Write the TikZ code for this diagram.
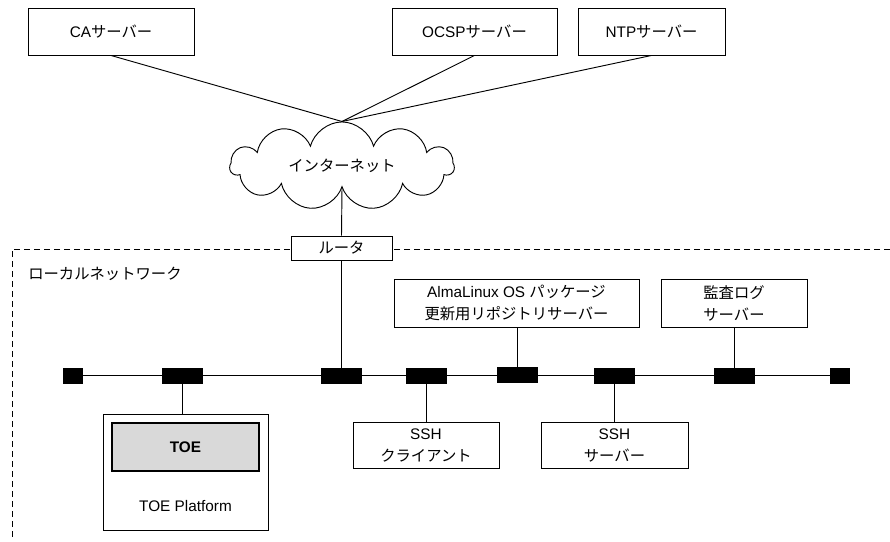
\documentclass[tikz,border=0pt]{standalone}
\usepackage{fontspec}
\setmainfont{Liberation Sans}
\newfontfamily\jp{Noto Sans CJK JP}
\usetikzlibrary{positioning, shapes.symbols}

\tikzset{
  box/.style={draw, fill=white, line width=0.7pt, align=center, inner sep=0pt},
  port/.style={fill=black, draw=black, minimum width=30pt, minimum height=11pt, inner sep=0pt},
  endport/.style={port, minimum width=14pt},
  wire/.style={line width=0.7pt},
}

\begin{document}
\begin{tikzpicture}[x=0.75pt, y=-0.75pt, font=\fontsize{11.5}{16.5}\selectfont]
\useasboundingbox (0,0) rectangle (890,542);

% external servers
\node[box, minimum width=124.5pt, minimum height=35.25pt] (ca) at (111,31.5) {CA{\jp サーバー}};
\node[box, minimum width=123.75pt, minimum height=35.25pt] (ocsp) at (474.5,31.5) {OCSP{\jp サーバー}};
\node[box, minimum width=110.25pt, minimum height=35.25pt] (ntp) at (651.5,31.5) {NTP{\jp サーバー}};

\node[cloud, draw, line width=0.7pt, cloud puffs=11, aspect=3, minimum width=168pt, minimum height=55pt] (inet) at (342,166) {\jp インターネット};

\path[wire] (ca.south) edge (inet.north);
\path[wire] (ocsp.south) edge (inet.north);
\path[wire] (ntp.south) edge (inet.north);

% local network
\draw[line width=0.7pt, dash pattern=on 4.5pt off 3pt] (890,249) -| (12,537);
\node[box, minimum width=75.75pt, minimum height=18pt] (router) at (341.5,248) {\jp ルータ};
\path[wire] (inet.south) edge (router.north);
\node[anchor=west, inner sep=0pt] (lanlabel) at (28,274) {\jp ローカルネットワーク};

% bus
\node[endport] (pL) at (72.5,375.5) {};
\node[port] (pToe) at (182,375.5) {};
\node[port] (pRtr) at (341.5,375.5) {};
\node[port] (pSshC) at (426.5,375.5) {};
\node[port] (pRepo) at (517,374.5) {};
\node[port] (pSshS) at (614,375.5) {};
\node[port] (pLog) at (734,375.5) {};
\node[endport] (pR) at (840,375.5) {};
\draw[wire] (pL) -- (pR);

% hosts
\node[box, minimum width=183.75pt, minimum height=36pt] (repo) at (516.5,303) {AlmaLinux OS {\jp パッケージ}\\{\jp 更新用リポジトリサーバー}};
\node[box, minimum width=109.5pt, minimum height=36pt] (auditlog) at (734,303) {\jp 監査ログ\\\jp サーバー};
\node[box, minimum width=109.5pt, minimum height=34.5pt] (sshc) at (426,445) {SSH\\{\jp クライアント}};
\node[box, minimum width=110.25pt, minimum height=34.5pt] (sshs) at (614.5,445) {SSH\\{\jp サーバー}};
\node[box, minimum width=123.75pt, minimum height=87pt] (platform) at (185.5,472) {};
\node[draw, fill=black!15, line width=1.6pt, minimum width=110.25pt, minimum height=36pt] (toe) at (185.5,447) {\bfseries TOE};
\node (platlabel) at (185.5,506) {TOE Platform};

\path[wire] (router) edge (pRtr);
\path[wire] (pToe) edge (pToe |- platform.north);
\path[wire] (pSshC) edge (pSshC |- sshc.north);
\path[wire] (pSshS) edge (pSshS |- sshs.north);
\path[wire] (pRepo) edge (pRepo |- repo.south);
\path[wire] (pLog) edge (pLog |- auditlog.south);
\end{tikzpicture}
\end{document}
